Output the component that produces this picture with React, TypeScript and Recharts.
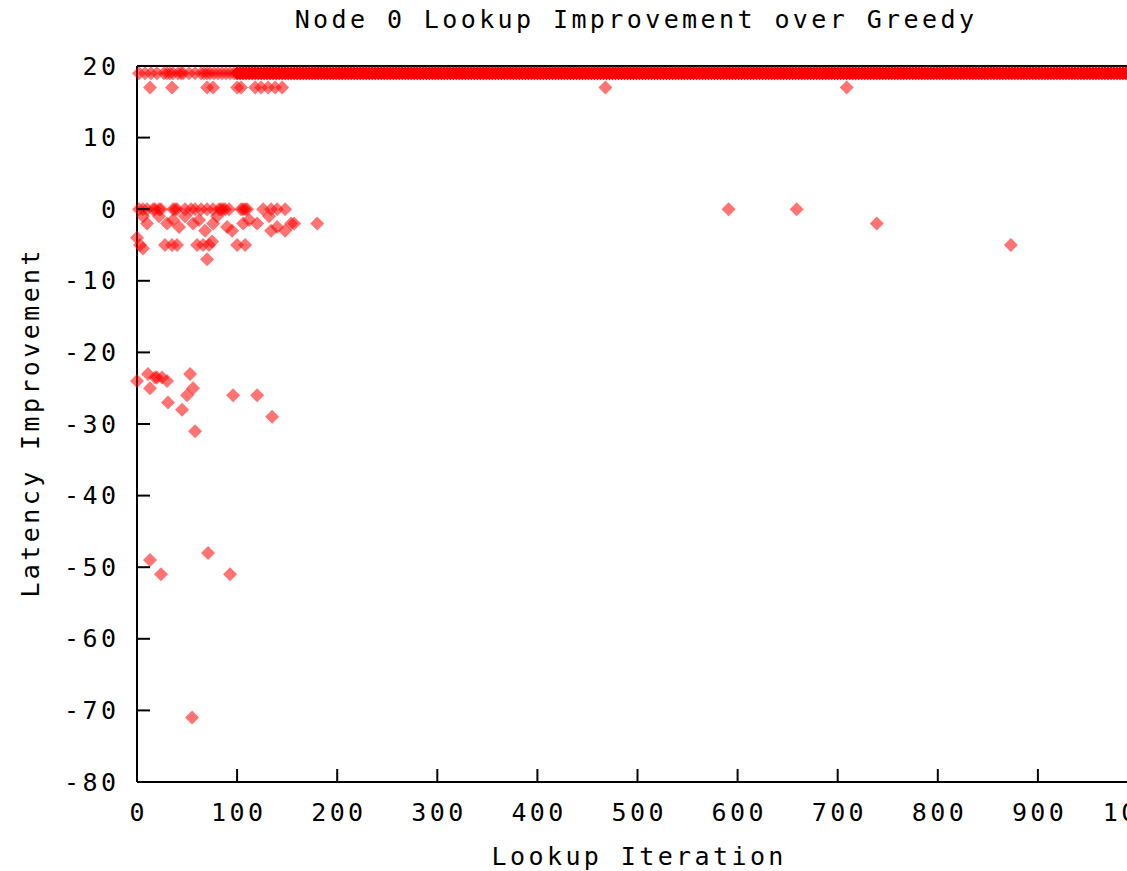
import { ScatterChart, Scatter, XAxis, YAxis, ReferenceLine } from 'recharts'

// iterations at 19 in the sparse start of the run
const topRowEarlyIters = [2, 8, 14, 20, 27, 30, 33, 36, 41, 44, 46, 52, 58, 64, 67, 70, 73, 77, 81, 85, 89, 93, 97]

// iterations at 19 from 100 on: one every few iterations, drawn as a dense band
const topRowIters = [
  100, 103, 106, 109, 112, 115, 118, 121, 124, 127, 130, 133, 136, 139, 142, 145, 148, 151, 154, 157,
  160, 163, 166, 169, 172, 175, 178, 181, 184, 187, 190, 193, 196, 199, 202, 205, 208, 211, 214, 217,
  220, 223, 226, 229, 232, 235, 238, 241, 244, 247, 250, 253, 256, 259, 262, 265, 268, 271, 274, 277,
  280, 283, 286, 289, 292, 295, 298, 301, 304, 307, 310, 313, 316, 319, 322, 325, 328, 331, 334, 337,
  340, 343, 346, 349, 352, 355, 358, 361, 364, 367, 370, 373, 376, 379, 382, 385, 388, 391, 394, 397,
  400, 403, 406, 409, 412, 415, 418, 421, 424, 427, 430, 433, 436, 439, 442, 445, 448, 451, 454, 457,
  460, 463, 466, 469, 472, 475, 478, 481, 484, 487, 490, 493, 496, 499, 502, 505, 508, 511, 514, 517,
  520, 523, 526, 529, 532, 535, 538, 541, 544, 547, 550, 553, 556, 559, 562, 565, 568, 571, 574, 577,
  580, 583, 586, 589, 592, 595, 598, 601, 604, 607, 610, 613, 616, 619, 622, 625, 628, 631, 634, 637,
  640, 643, 646, 649, 652, 655, 658, 661, 664, 667, 670, 673, 676, 679, 682, 685, 688, 691, 694, 697,
  700, 703, 706, 709, 712, 715, 718, 721, 724, 727, 730, 733, 736, 739, 742, 745, 748, 751, 754, 757,
  760, 763, 766, 769, 772, 775, 778, 781, 784, 787, 790, 793, 796, 799, 802, 805, 808, 811, 814, 817,
  820, 823, 826, 829, 832, 835, 838, 841, 844, 847, 850, 853, 856, 859, 862, 865, 868, 871, 874, 877,
  880, 883, 886, 889, 892, 895, 898, 901, 904, 907, 910, 913, 916, 919, 922, 925, 928, 931, 934, 937,
  940, 943, 946, 949, 952, 955, 958, 961, 964, 967, 970, 973, 976, 979, 982, 985, 988, 991, 994, 997,
  1000,
]

// iterations at 17
const row17Iters = [13, 35, 70, 76, 100, 104, 118, 124, 131, 138, 145, 468, 709]

// the remaining scattered points
const scatterIters = [
  // around 0
  2, 6, 10, 16, 18, 22, 24, 36, 38, 40, 48, 54, 58, 64, 70, 76, 82, 84, 86, 88,
  92, 104, 106, 108, 110, 126, 134, 140, 148, 591, 659,
  // -1 .. -3
  6, 10, 22, 30, 36, 42, 48, 56, 62, 68, 76, 80, 90, 95, 106, 112, 120, 132,
  140, 148, 154, 157, 180, 739,
  // -4 .. -7
  0, 3, 6, 28, 35, 40, 60, 66, 72, 75, 70, 100, 108, 134, 873,
  // -23 .. -31
  0, 11, 13, 18, 20, 25, 30, 31, 45, 50, 53, 56, 58, 96, 120, 135,
  // -48 .. -51
  13, 24, 71, 93,
  // -71
  55,
]
const scatterLatency = [
  0, 0, 0, 0, 0, 0, 0, 0, 0, 0, 0, 0, 0, 0, 0, 0, 0, 0, 0, 0,
  0, 0, 0, 0, 0, 0, 0, 0, 0, 0, 0,
  -1, -2, -1, -2, -1.5, -2.5, -1, -2, -1.5, -3, -2, -1, -2.5, -3, -2, -1.5, -2, -1,
  -2.5, -3, -2, -2, -2, -2,
  -4, -5, -5.5, -5, -5, -5, -5, -5, -5, -4.5, -7, -5, -5, -3, -5,
  -24, -23, -25, -23.5, -23.5, -23.5, -24, -27, -28, -26, -23, -25, -31, -26, -26, -29,
  -49, -51, -48, -51,
  -71,
]

const xTicks = [0, 100, 200, 300, 400, 500, 600, 700, 800, 900, 1000]
const yTicks = [20, 10, 0, -10, -20, -30, -40, -50, -60, -70, -80]

const bandPoints = topRowIters.map((it) => ({ iter: it, latency: 19 }))
const points = [
  ...topRowEarlyIters.map((it) => ({ iter: it, latency: 19 })),
  ...row17Iters.map((it) => ({ iter: it, latency: 17 })),
  ...scatterIters.map((it, i) => ({ iter: it, latency: scatterLatency[i] })),
]

const FONT = '"DejaVu Sans Mono", monospace'
const FS = 25
const LS = 3.4

const diamondPts = (cx: number, cy: number, r: number) =>
  `${cx},${cy - r} ${cx + r},${cy} ${cx},${cy + r} ${cx - r},${cy}`

const Diamond = (props: any) => (
  <polygon points={diamondPts(props.cx, props.cy, 7)} fill="#ff0000" fillOpacity={0.55} />
)

const SolidDiamond = (props: any) => (
  <polygon points={diamondPts(props.cx, props.cy, 7)} fill="#ff0000" />
)

const YTick = ({ x, y, payload }: any) => (
  <g>
    <line x1={x} y1={y} x2={x + 13} y2={y} stroke="#000" strokeWidth={2} />
    <text
      x={x - 21}
      y={y}
      dx={LS}
      textAnchor="end"
      dominantBaseline="central"
      fontFamily={FONT}
      fontSize={FS}
      letterSpacing={LS}
      fill="#000"
    >
      {payload.value}
    </text>
  </g>
)

const XTick = ({ x, y, payload }: any) => (
  <g>
    <line x1={x} y1={y} x2={x} y2={y - 13} stroke="#000" strokeWidth={2} />
    <text
      x={x}
      y={y + 30}
      dx={LS / 2}
      textAnchor="middle"
      dominantBaseline="central"
      fontFamily={FONT}
      fontSize={FS}
      letterSpacing={LS}
      fill="#000"
    >
      {payload.value}
    </text>
  </g>
)

const XTitle = ({ viewBox }: any) => (
  <text
    x={viewBox.x + viewBox.width / 2}
    y={856}
    dx={LS / 2}
    textAnchor="middle"
    dominantBaseline="central"
    fontFamily={FONT}
    fontSize={FS}
    letterSpacing={LS}
    fill="#000"
  >
    Lookup Iteration
  </text>
)

const YTitle = ({ viewBox }: any) => {
  const cy = viewBox.y + viewBox.height / 2
  return (
    <text
      x={30}
      y={cy}
      dx={LS / 2}
      transform={`rotate(-90 30 ${cy})`}
      textAnchor="middle"
      dominantBaseline="central"
      fontFamily={FONT}
      fontSize={FS}
      letterSpacing={LS}
      fill="#000"
    >
      Latency Improvement
    </text>
  )
}

export default function App() {
  return (
    <div style={{ position: 'relative', width: 1127, height: 871, overflow: 'hidden', background: '#fff' }}>
      <style>{'body{margin:0;overflow:hidden}'}</style>
      <div
        style={{
          position: 'absolute',
          top: 6,
          left: 636,
          transform: 'translateX(-50%)',
          whiteSpace: 'nowrap',
          fontFamily: FONT,
          fontSize: FS,
          letterSpacing: LS,
          lineHeight: '28px',
          color: '#000',
        }}
      >
        Node 0 Lookup Improvement over Greedy
      </div>
      <ScatterChart width={1160} height={871} margin={{ top: 66, right: 22, bottom: 0, left: 0 }}>
        <XAxis
          type="number"
          dataKey="iter"
          domain={[0, 1000]}
          ticks={xTicks}
          interval={0}
          height={89}
          tickSize={0}
          tickMargin={0}
          tickLine={false}
          tick={<XTick />}
          axisLine={{ stroke: '#000', strokeWidth: 2 }}
          label={<XTitle />}
        />
        <YAxis
          type="number"
          dataKey="latency"
          domain={[-80, 20]}
          ticks={yTicks}
          interval={0}
          width={137}
          tickSize={0}
          tickMargin={0}
          tickLine={false}
          tick={<YTick />}
          axisLine={{ stroke: '#000', strokeWidth: 2 }}
          label={<YTitle />}
        />
        <ReferenceLine y={20} stroke="#000" strokeWidth={2} />
        <ReferenceLine x={1000} stroke="#000" strokeWidth={2} />
        <Scatter data={points} shape={<Diamond />} isAnimationActive={false} />
        <Scatter data={bandPoints} shape={<SolidDiamond />} isAnimationActive={false} />
      </ScatterChart>
    </div>
  )
}
